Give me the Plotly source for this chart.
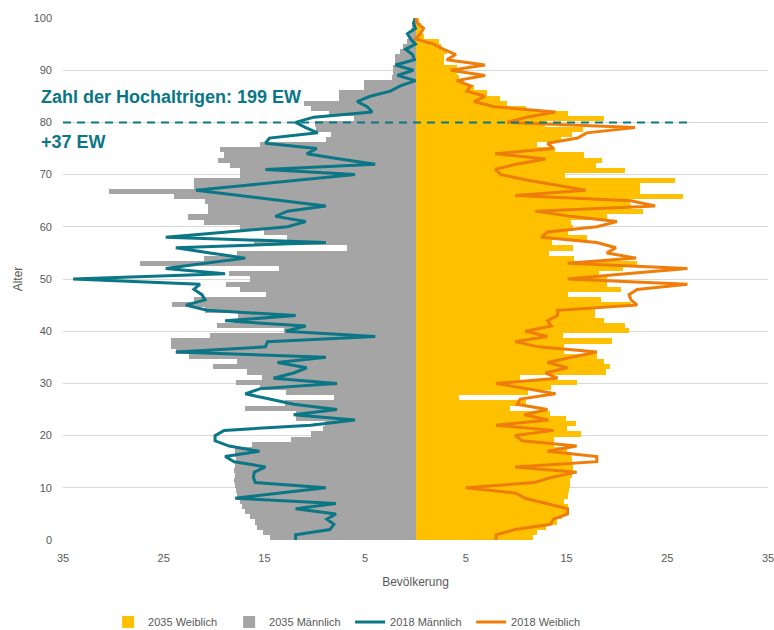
import plotly.graph_objects as go

ages = list(range(0, 101))

# 2035 Männlich (gray bars), absolute values
m2035 = [14.4, 15.1, 15.7, 15.9, 16.4, 16.9, 17.2, 17.4, 17.7, 17.8,
         17.9, 18.0, 17.9, 18.0, 17.9, 17.8, 17.9, 17.9, 16.2, 12.4,
         10.4, 9.2, 9.0, 11.9, 11.9, 16.9, 13.0, 8.1, 12.9, 15.4,
         17.8, 15.2, 16.7, 20.1, 17.7, 22.5, 23.8, 24.3, 24.3, 20.4,
         13.1, 19.7, 17.6, 17.6, 20.9, 24.2, 22.0, 14.8, 17.4, 18.8,
         16.4, 18.5, 13.6, 27.4, 21.0, 17.7, 6.8, 16.0, 12.8, 15.0,
         17.4, 21.0, 22.6, 20.6, 20.6, 20.9, 24.0, 30.4, 22.0, 22.0,
         17.4, 17.4, 18.4, 19.6, 19.0, 19.4, 15.4, 8.9, 8.4, 9.9,
         10.0, 6.1, 8.6, 10.4, 11.1, 7.6, 7.6, 5.1, 5.1, 2.3,
         2.2, 2.2, 2.0, 2.0, 1.5, 1.2, 0.8, 0.5, 0.4, 0.3,
         0.2]

# 2035 Weiblich (yellow bars)
f2035 = [11.7, 12.1, 13.0, 14.0, 14.5, 15.0, 15.1, 14.7, 15.1, 15.2,
         15.3, 15.3, 15.5, 15.6, 15.6, 15.5, 15.4, 15.0, 13.8, 13.8,
         16.4, 15.0, 15.9, 14.9, 13.4, 9.4, 11.0, 4.3, 11.2, 13.5,
         16.0, 10.4, 18.9, 19.3, 18.7, 18.0, 14.7, 14.7, 19.5, 14.6,
         21.2, 20.8, 18.7, 17.8, 17.8, 21.4, 18.4, 15.1, 20.4, 19.0,
         19.0, 18.2, 20.6, 22.0, 15.7, 13.3, 15.6, 13.6, 17.0, 15.1,
         15.6, 15.4, 19.0, 22.6, 21.4, 21.3, 26.6, 22.3, 22.3, 25.8,
         14.8, 20.8, 17.9, 18.5, 16.7, 13.9, 12.1, 14.4, 15.5, 16.6,
         12.9, 18.7, 15.1, 11.0, 9.1, 8.4, 7.1, 5.8, 4.8, 4.3,
         4.1, 4.1, 2.8, 2.8, 3.1, 2.5, 2.3, 0.8, 0.5, 0.5,
         0.3]

# 2018 Männlich (teal line), absolute values
m2018 = [11.9, 11.9, 8.5, 8.1, 8.8, 7.9, 11.9, 7.9, 17.9, 13.4,
         8.9, 15.9, 16.1, 16.0, 14.9, 18.0, 18.9, 15.5, 18.5, 19.9,
         19.9, 19.0, 10.4, 6.0, 12.1, 7.8, 12.1, 14.5, 16.9, 15.4,
         7.8, 14.1, 12.1, 10.8, 13.7, 8.9, 23.8, 14.9, 14.7, 4.0,
         12.9, 10.9, 18.9, 11.9, 20.7, 22.8, 20.9, 21.2, 22.0, 21.4,
         34.0, 18.9, 24.8, 20.9, 16.9, 20.4, 23.8, 8.9, 24.8, 18.7,
         12.7, 10.9, 13.9, 12.7, 8.9, 13.2, 17.6, 21.8, 16.5, 11.0,
         6.0, 14.9, 4.0, 7.5, 10.8, 9.8, 14.9, 14.5, 9.7, 10.9,
         11.9, 10.1, 4.3, 4.8, 5.8, 4.5, 2.5, 1.5, 0.0, 1.8,
         0.2, 2.0, 0.1, 0.3, 1.0, 0.0, 0.5, 0.8, 0.0, 0.2,
         0.0]

# 2018 Weiblich (orange line)
f2018 = [8.0, 8.0, 9.9, 13.4, 13.7, 15.1, 15.1, 13.0, 10.9, 9.9,
         5.0, 11.8, 13.5, 16.0, 9.9, 18.0, 18.0, 13.1, 16.0, 10.6,
         9.9, 13.7, 8.0, 13.2, 10.8, 13.1, 10.1, 10.4, 13.9, 11.0,
         8.0, 14.1, 12.9, 15.1, 13.1, 15.5, 18.0, 12.2, 9.9, 13.1,
         10.9, 13.5, 13.1, 14.1, 14.1, 22.0, 21.4, 21.2, 22.0, 27.0,
         15.1, 20.9, 27.0, 15.1, 21.9, 19.0, 19.9, 18.0, 12.5, 13.1,
         18.0, 20.0, 15.4, 11.9, 23.8, 21.4, 9.9, 16.9, 13.7, 10.9,
         8.5, 7.9, 10.0, 12.9, 7.9, 13.7, 13.1, 16.1, 17.0, 21.8,
         9.1, 11.0, 13.9, 7.8, 5.8, 6.9, 5.1, 5.5, 4.1, 6.9,
         3.5, 6.9, 3.1, 4.0, 2.8, 1.8, 0.0, 0.5, 0.8, 0.2,
         0.0]

x_tickvals = [-35, -25, -15, -5, 5, 15, 25, 35]
x_ticktext = ["35", "25", "15", "5", "5", "15", "25", "35"]

YELLOW = "#FFC000"
GRAY = "#A5A5A5"
TEAL = "#0A7686"
ORANGE = "#EF7D0A"
TXT = "#595959"

# Excel-like category bands: 101 categories spread over the 0..100 axis
n = len(ages)
band = 100.0 / n
bar_y = [(a + 0.5) * band for a in ages]

fig = go.Figure()
fig.add_trace(go.Bar(name="2035 Weiblich", y=bar_y, x=f2035, orientation="h",
                     width=band, marker=dict(color=YELLOW, line=dict(width=0))))
fig.add_trace(go.Bar(name="2035 Männlich", y=bar_y, x=[-v for v in m2035], orientation="h",
                     width=band, marker=dict(color=GRAY, line=dict(width=0))))
fig.add_trace(go.Scatter(name="2018 Männlich", y=ages, x=[-v for v in m2018], mode="lines",
                         line=dict(color=TEAL, width=3)))
fig.add_trace(go.Scatter(name="2018 Weiblich", y=ages, x=f2018, mode="lines",
                         line=dict(color=ORANGE, width=3)))

fig.add_shape(type="line", xref="x", yref="y", x0=-35, x1=27, y0=80, y1=80,
              line=dict(color=TEAL, width=2, dash="8px,6px"))

fig.add_annotation(text="<b>Zahl der Hochaltrigen: 199 EW</b>", xref="paper", yref="y",
                   x=-0.034, y=84.8, xanchor="left", yanchor="middle", showarrow=False,
                   font=dict(family="Liberation Sans", size=18, color=TEAL))
fig.add_annotation(text="<b>+37 EW</b>", xref="paper", yref="y",
                   x=-0.034, y=76.2, xanchor="left", yanchor="middle", showarrow=False,
                   font=dict(family="Liberation Sans", size=18, color=TEAL))

fig.update_layout(
    width=774, height=630,
    margin=dict(l=63, r=6, t=18, b=90, autoexpand=False),
    paper_bgcolor="white", plot_bgcolor="white",
    barmode="overlay", bargap=0,
    font=dict(family="Liberation Sans", size=11, color=TXT),
    showlegend=True,
    legend=dict(orientation="h", xref="paper", yref="paper",
                x=0.064, xanchor="left", y=-0.157, yanchor="middle",
                font=dict(size=11, color=TXT), traceorder="normal",
                itemwidth=30, entrywidth=76),
    xaxis=dict(range=[-35, 35], tickvals=x_tickvals, ticktext=x_ticktext,
               showgrid=False, zeroline=False, showline=False, ticks="",
               tickfont=dict(size=11, color=TXT), ticklabelstandoff=10,
               ticklabeloverflow="allow",
               title=dict(text="Bevölkerung", font=dict(size=12, color=TXT), standoff=14)),
    yaxis=dict(range=[0, 100], dtick=10, showgrid=True, gridcolor="#D9D9D9", gridwidth=1,
               zeroline=False, showline=False, ticks="",
               tickfont=dict(size=11, color=TXT), ticklabelstandoff=10,
               title=dict(text="Alter", font=dict(size=12, color=TXT), standoff=8)),
)

# remove the default 8px page margin so the 774x630 figure fills the window
fig.write_html("out.html",
               config={"displayModeBar": False},
               post_script="document.body.style.margin='0px';document.body.style.overflow='hidden';")
